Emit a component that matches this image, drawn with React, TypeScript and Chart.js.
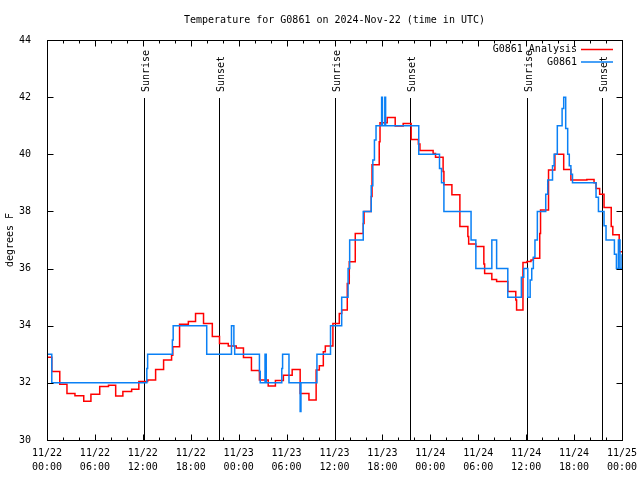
import React, { useEffect, useRef } from "react";
import { Chart, registerables } from "chart.js";

Chart.register(...registerables);

const TITLE = "Temperature for G0861 on 2024-Nov-22 (time in UTC)";
const Y_TITLE = "degrees F";

// x axis: hours since 2024-11-22 00:00 UTC
const tickDates = ["11/22", "11/22", "11/22", "11/22", "11/23", "11/23", "11/23", "11/23", "11/24", "11/24", "11/24", "11/24", "11/25"];
const tickTimes = ["00:00", "06:00", "12:00", "18:00", "00:00", "06:00", "12:00", "18:00", "00:00", "06:00", "12:00", "18:00", "00:00"];

const sunTimes = [12.15, 21.55, 36.1, 45.5, 60.15, 69.55];
const sunLabels = ["Sunrise", "Sunset", "Sunrise", "Sunset", "Sunrise", "Sunset"];

const seriesLabels = ["G0861 Analysis", "G0861"];
const seriesColors = ["#ff0000", "#0a80f5"];

const analysisTimes = [
  0, 0.6, 1.6, 2.5, 3.5, 4.6, 5.5, 6.6, 7.7, 8.6, 9.5, 10.6, 11.5, 12.6, 13.6, 14.6, 15.6, 15.75, 16.6, 17.7,
  18.6, 19.6, 20.7, 21.6, 22.7, 23.7, 24.6, 25.6, 26.6, 27.7, 28.6, 29.6, 30.7, 31.7, 32.8, 33.7, 34.1, 34.6,
  34.85, 35.8, 36.6, 36.9, 37.6, 37.85, 38.6, 39.6, 39.7, 40.6, 40.7, 41.6, 41.7, 42.6, 43.6, 44.6, 45.6, 46.5,
  46.7, 48.35, 48.65, 49.6, 49.7, 50.7, 51.7, 52.7, 52.8, 53.7, 54.7, 54.8, 55.7, 56.3, 57.7, 58.7, 58.8, 59.6,
  60.1, 60.6, 60.9, 61.7, 61.8, 62.8, 63.6, 64.7, 65.6, 67.6, 68.5, 68.75, 69.2, 69.75, 70.65, 70.85, 71.65, 72,
];
const analysisTemps = [
  32.9, 32.4, 31.95, 31.63, 31.55, 31.36, 31.6, 31.87, 31.92, 31.54, 31.7, 31.78, 32.05, 32.1, 32.47, 32.8, 32.97, 33.26, 34.05, 34.15,
  34.43, 34.08, 33.62, 33.38, 33.29, 33.22, 32.89, 32.43, 32.1, 31.89, 32.08, 32.27, 32.47, 31.63, 31.4, 32.45, 32.6, 33.09,
  33.29, 34.08, 34.43, 34.55, 35.48, 36.24, 37.23, 37.58, 38.0, 38.52, 39.63, 40.44, 41.1, 41.29, 40.99, 41.08, 40.52, 40.36,
  40.13, 40.03, 39.9, 39.4, 38.93, 38.58, 37.47, 37.12, 36.86, 36.77, 36.16, 35.83, 35.62, 35.55, 35.2, 34.9, 34.55, 36.21,
  36.25, 36.3, 36.36, 37.23, 38.05, 39.45, 40.0, 39.47, 39.1, 39.12, 39.0, 38.8, 38.6, 38.14, 37.47, 37.18, 36.59, 36.59,
];

const obsTimes = [
  0, 0.6, 12.5, 12.6, 15.7, 15.8, 20.0, 23.1, 23.4, 23.5, 26.6, 26.7, 27.3, 27.45, 29.4, 29.5, 30.3, 31.7, 31.8,
  33.8, 35.5, 36.9, 37.7, 37.9, 39.6, 40.6, 40.8, 41.0, 41.2, 41.9, 42.0, 42.3, 42.4, 46.55, 49.15, 49.4, 49.7,
  53.1, 53.7, 55.7, 56.3, 57.7, 59.4, 59.7, 60.2, 60.5, 60.7, 60.9, 61.1, 61.4, 62.45, 62.7, 63.3, 63.5, 63.9,
  64.5, 64.7, 64.95, 65.2, 65.4, 65.6, 65.8, 68.75, 69.05, 69.75, 70.0, 71.05, 71.3, 71.55, 71.75, 72,
];
const obsTemps = [
  33.0, 32.0, 32.5, 33.0, 33.5, 34.0, 33.0, 34.0, 33.3, 33.0, 32.4, 32.0, 33.0, 32.0, 32.5, 33.0, 32.0, 31.0, 32.0,
  33.0, 34.0, 35.0, 36.0, 37.0, 38.0, 38.9, 39.8, 40.5, 41.0, 42.0, 41.0, 42.0, 41.0, 40.0, 39.5, 39.0, 38.0,
  37.0, 36.0, 37.0, 36.0, 35.0, 35.7, 36.0, 35.0, 35.6, 36.0, 36.4, 37.0, 38.0, 38.6, 39.1, 39.6, 40.0, 41.0,
  41.6, 42.0, 40.9, 40.0, 39.6, 39.3, 39.0, 38.5, 38.0, 37.5, 37.0, 36.5, 36.0, 37.0, 36.0, 36.5,
];

const FONT = "'DejaVu Sans Mono', 'Liberation Mono', monospace";

const gnuplotDecor = {
  id: "gnuplotDecor",
  beforeDatasetsDraw(chart: any) {
    const { ctx, chartArea: a, scales } = chart;
    const xs = scales.x;
    ctx.save();
    ctx.strokeStyle = "#000";
    ctx.lineWidth = 1;
    ctx.font = `10px ${FONT}`;
    ctx.fillStyle = "#000";
    sunTimes.forEach((t, i) => {
      const px = Math.round(xs.getPixelForValue(t)) + 0.5;
      ctx.beginPath();
      ctx.moveTo(px, a.top + 58);
      ctx.lineTo(px, a.bottom);
      ctx.stroke();
      ctx.save();
      ctx.translate(px + 2, a.top + 52);
      ctx.rotate(-Math.PI / 2);
      ctx.textAlign = "left";
      ctx.textBaseline = "middle";
      ctx.fillText(sunLabels[i], 0, 0);
      ctx.restore();
    });
    ctx.restore();
  },
  afterDatasetsDraw(chart: any) {
    const { ctx, chartArea: a, scales } = chart;
    const xs = scales.x;
    const ys = scales.y;
    ctx.save();
    ctx.strokeStyle = "#000";
    ctx.lineWidth = 1;
    const L = Math.round(a.left) + 0.5;
    const R = Math.round(a.right) + 0.5;
    const T = Math.round(a.top) + 0.5;
    const B = Math.round(a.bottom) + 0.5;
    ctx.beginPath();
    for (let h = 0; h <= 72; h += 2) {
      const px = Math.round(xs.getPixelForValue(h)) + 0.5;
      const len = h % 6 === 0 ? 6 : 3;
      ctx.moveTo(px, B);
      ctx.lineTo(px, B - len);
      ctx.moveTo(px, T);
      ctx.lineTo(px, T + len);
    }
    for (let v = 30; v <= 44; v += 2) {
      const py = Math.round(ys.getPixelForValue(v)) + 0.5;
      ctx.moveTo(L, py);
      ctx.lineTo(L + 6, py);
      ctx.moveTo(R, py);
      ctx.lineTo(R - 6, py);
    }
    ctx.stroke();
    ctx.strokeRect(L, T, R - L, B - T);

    ctx.font = `10px ${FONT}`;
    ctx.fillStyle = "#000";
    ctx.textAlign = "right";
    ctx.textBaseline = "middle";
    seriesLabels.forEach((lab, i) => {
      const y = a.top + 9.5 + i * 12.5;
      ctx.fillText(lab, a.right - 45, y);
      ctx.strokeStyle = seriesColors[i];
      ctx.lineWidth = 1.5;
      ctx.beginPath();
      ctx.moveTo(a.right - 41, y);
      ctx.lineTo(a.right - 9, y);
      ctx.stroke();
    });
    ctx.restore();
  },
};

export default function App() {
  const ref = useRef<HTMLCanvasElement>(null);
  useEffect(() => {
    const analysis = analysisTimes.map((t, i) => ({ x: t, y: analysisTemps[i] }));
    const obs = obsTimes.map((t, i) => ({ x: t, y: obsTemps[i] }));
    const fontSpec = { family: FONT, size: 10, weight: "normal" as const };
    const chart = new Chart(ref.current!, {
      type: "line",
      data: {
        datasets: [
          {
            label: seriesLabels[0],
            data: analysis,
            borderColor: seriesColors[0],
            borderWidth: 1.5,
            pointRadius: 0,
            stepped: true,
            fill: false,
            order: 2,
          },
          {
            label: seriesLabels[1],
            data: obs,
            borderColor: seriesColors[1],
            borderWidth: 1.5,
            pointRadius: 0,
            stepped: true,
            fill: false,
            order: 1,
          },
        ],
      },
      options: {
        animation: false,
        responsive: false,
        devicePixelRatio: 1,
        layout: { padding: { left: 0, right: 18, top: 0, bottom: 0 } },
        plugins: {
          legend: { display: false },
          tooltip: { enabled: false },
          title: {
            display: true,
            text: TITLE,
            color: "#000",
            font: fontSpec,
            padding: { top: 14, bottom: 14 },
            fullSize: false,
          },
        },
        scales: {
          x: {
            type: "linear",
            min: 0,
            max: 72,
            grid: { display: false },
            border: { display: false },
            ticks: {
              stepSize: 6,
              autoSkip: false,
              maxRotation: 0,
              padding: -2,
              color: "#000",
              font: { ...fontSpec, lineHeight: 1.4 },
              callback: (v: any) => {
                const i = Math.round(Number(v) / 6);
                return [tickDates[i], tickTimes[i]];
              },
            },
            afterFit: (s: any) => {
              s.height = 40;
            },
          },
          y: {
            min: 30,
            max: 44,
            grid: { display: false },
            border: { display: false },
            ticks: { stepSize: 2, padding: 8, color: "#000", font: fontSpec },
            title: { display: true, text: Y_TITLE, color: "#000", font: fontSpec, padding: { top: 4, bottom: 0 } },
            afterFit: (s: any) => {
              s.width = 47;
            },
          },
        },
      },
      plugins: [gnuplotDecor],
    });
    return () => chart.destroy();
  }, []);
  return (
    <div style={{ position: "absolute", left: 0, top: 0, width: 640, height: 480, background: "#fff" }}>
      <canvas ref={ref} width={640} height={480} style={{ width: 640, height: 480, display: "block" }} />
    </div>
  );
}
